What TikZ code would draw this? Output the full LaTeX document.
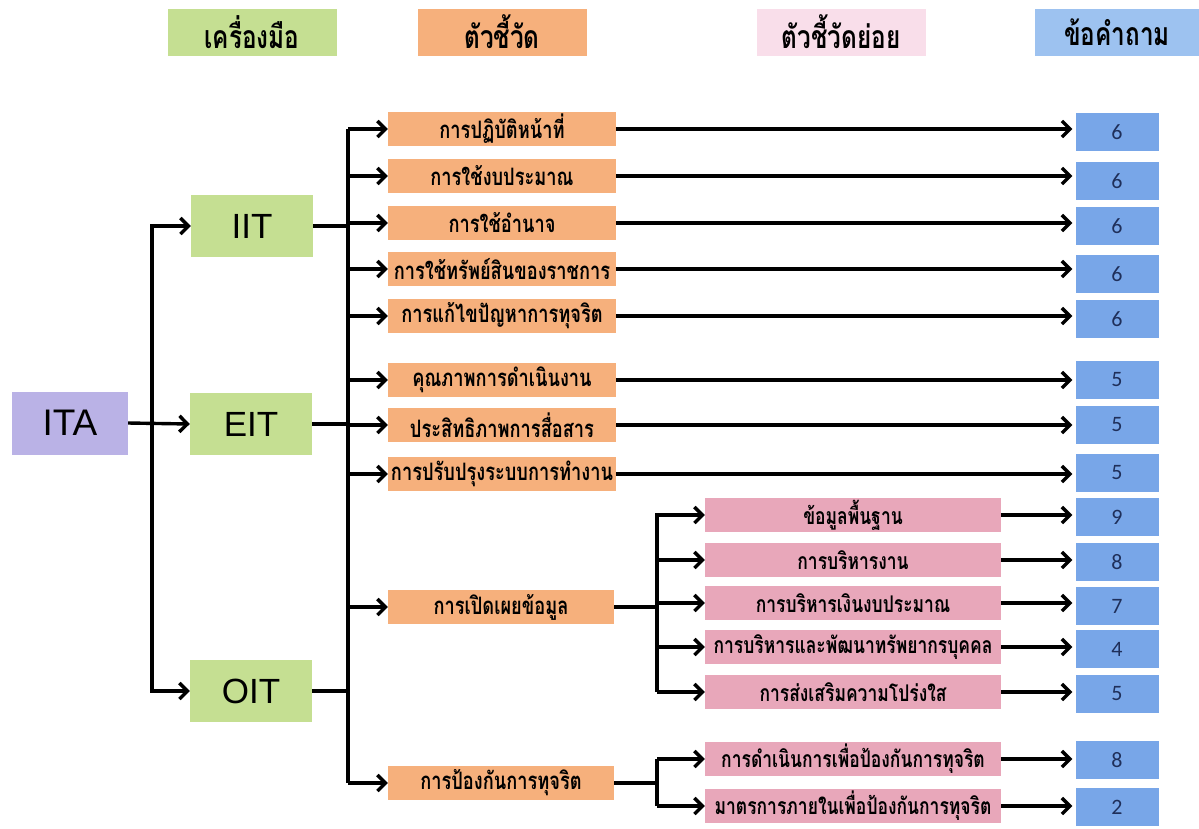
\documentclass[tikz,border=0pt]{standalone}
\usepackage{fontspec}
\setmainfont{Liberation Sans}
\newfontfamily\thaifont[Script=Thai, FakeStretch=0.76]{Loma}
\newfontfamily\numfont{Carlito}
\usetikzlibrary{arrows.meta,calc}
\definecolor{cgreen}{HTML}{C5DF92}
\definecolor{corange}{HTML}{F6B07C}
\definecolor{cpinkhead}{HTML}{F9DEEA}
\definecolor{cbluehead}{HTML}{9DC2F0}
\definecolor{cpurple}{HTML}{BAB2E6}
\definecolor{cpink}{HTML}{E8A7BA}
\definecolor{cblue}{HTML}{78A6E8}
\definecolor{cnum}{HTML}{1F2F5A}
\tikzset{
  box/.style={inner sep=0pt, anchor=center, text=black},
  headbox/.style={box, minimum width=169pt, minimum height=47pt, font=\thaifont\bfseries\fontsize{32}{34}\selectfont},
  levbox/.style={box, fill=cgreen, minimum width=122pt, minimum height=62pt, font=\fontsize{35}{38}\selectfont},
  indbox/.style={box, fill=corange, minimum width=228pt, minimum height=34pt, font=\thaifont\bfseries\fontsize{24}{26}\selectfont},
  subbox/.style={box, fill=cpink, minimum width=296pt, minimum height=34pt, font=\thaifont\bfseries\fontsize{23}{25}\selectfont},
  numbox/.style={box, fill=cblue, minimum width=83pt, minimum height=38pt, text=cnum, font=\numfont\fontsize{22}{24}\selectfont},
  ln/.style={line width=3.4pt, black},
  arr/.style={ln, -{Straight Barb[length=8pt,width=16pt]}},
}
\begin{document}
\begin{tikzpicture}[x=1pt,y=-1pt]
\useasboundingbox (0,0) rectangle (1199,828);
% headers
\node[headbox, fill=cgreen] (h1) at (252,32) {เครื่องมือ};
\node[headbox, fill=corange] (h2) at (502,32) {ตัวชี้วัด};
\node[headbox, fill=cpinkhead] (h3) at (841,32) {ตัวชี้วัดย่อย};
\node[headbox, fill=cbluehead, minimum width=164pt] (h4) at (1117,32) {ข้อคำถาม};
% levels
\node[box, fill=cpurple, minimum width=116pt, minimum height=63pt, font=\fontsize{37}{40}\selectfont] (ITA) at (70,423) {ITA};
\node[levbox] (IIT) at (252,226) {IIT};
\node[levbox] (EIT) at (251,424) {EIT};
\node[levbox] (OIT) at (251,691) {OIT};
% indicators
\node[indbox] (o1) at (502,129) {การปฏิบัติหน้าที่};
\node[indbox] (o2) at (502,176) {การใช้งบประมาณ};
\node[indbox] (o3) at (502,223) {การใช้อำนาจ};
\node[indbox] (o4) at (502,269) {การใช้ทรัพย์สินของราชการ};
\node[indbox] (o5) at (502,316) {การแก้ไขปัญหาการทุจริต};
\node[indbox] (o6) at (502,380) {คุณภาพการดำเนินงาน};
\node[indbox] (o7) at (502,425) {ประสิทธิภาพการสื่อสาร};
\node[indbox] (o8) at (502,474) {การปรับปรุงระบบการทำงาน};
\node[indbox, minimum width=226pt] (o9) at (501,607) {การเปิดเผยข้อมูล};
\node[indbox, minimum width=226pt] (o10) at (501,783) {การป้องกันการทุจริต};
% sub-indicators
\node[subbox] (p1) at (853,515) {ข้อมูลพื้นฐาน};
\node[subbox] (p2) at (853,560) {การบริหารงาน};
\node[subbox] (p3) at (853,603) {การบริหารเงินงบประมาณ};
\node[subbox] (p4) at (853,647) {การบริหารและพัฒนาทรัพยากรบุคคล};
\node[subbox] (p5) at (853,692) {การส่งเสริมความโปร่งใส};
\node[subbox] (p6) at (853,759) {การดำเนินการเพื่อป้องกันการทุจริต};
\node[subbox] (p7) at (853,806) {มาตรการภายในเพื่อป้องกันการทุจริต};
% numbers
\node[numbox] (n1) at (1117,132) {6};
\node[numbox] (n2) at (1117,181) {6};
\node[numbox] (n3) at (1117,226) {6};
\node[numbox] (n4) at (1117,274) {6};
\node[numbox] (n5) at (1117,319) {6};
\node[numbox] (n6) at (1117,380) {5};
\node[numbox] (n7) at (1117,425) {5};
\node[numbox] (n8) at (1117,473) {5};
\node[numbox] (n9) at (1117,517) {9};
\node[numbox] (n10) at (1117,562) {8};
\node[numbox] (n11) at (1117,606) {7};
\node[numbox] (n12) at (1117,649) {4};
\node[numbox] (n13) at (1117,694) {5};
\node[numbox] (n14) at (1117,760) {8};
\node[numbox] (n15) at (1117,807) {2};
% junctions
\coordinate (j0) at (152,423);
\coordinate (j1) at (348,226);
\coordinate (j2) at (657,607);
\coordinate (j3) at (657,783);
% ITA connectors
\draw[arr] (ITA.east) -- (EIT.west);
\draw[arr] (j0) |- (IIT.west);
\draw[arr] (j0) |- (OIT.west);
% level to indicator trunk
\draw[ln] (IIT.east |- j1) -- (j1);
\draw[ln] (EIT.east) -- (EIT.east -| j1);
\draw[ln] (OIT.east) -- (OIT.east -| j1);
\draw[ln] (o1.west -| j1) -- (o10.west -| j1);
\foreach \o in {o1,o2,o3,o4,o5,o6,o7,o8,o9,o10}
  \draw[arr] (\o.west -| j1) -- (\o.west);
% indicators to numbers
\foreach \o/\n in {o1/n1,o2/n2,o3/n3,o4/n4,o5/n5,o6/n6,o7/n7,o8/n8}
  \draw[arr, shorten >=3pt] (\o.east) -- (\o.east -| \n.west);
% disclosure branch
\draw[ln] (o9.east) -- (j2);
\draw[ln] ($(p1.west -| j2)+(0,-2)$) -- (p5.west -| j2);
\foreach \p in {p1,p2,p3,p4,p5}
  \draw[arr] (\p.west -| j2) -- (\p.west);
% prevention branch
\draw[ln] (o10.east) -- (j3);
\draw[ln] (p6.west -| j3) -- (p7.west -| j3);
\foreach \p in {p6,p7}
  \draw[arr] (\p.west -| j3) -- (\p.west);
% sub-indicators to numbers
\foreach \p/\n in {p1/n9,p2/n10,p3/n11,p4/n12,p5/n13,p6/n14,p7/n15}
  \draw[arr, shorten >=3pt] (\p.east) -- (\p.east -| \n.west);
\end{tikzpicture}
\end{document}
